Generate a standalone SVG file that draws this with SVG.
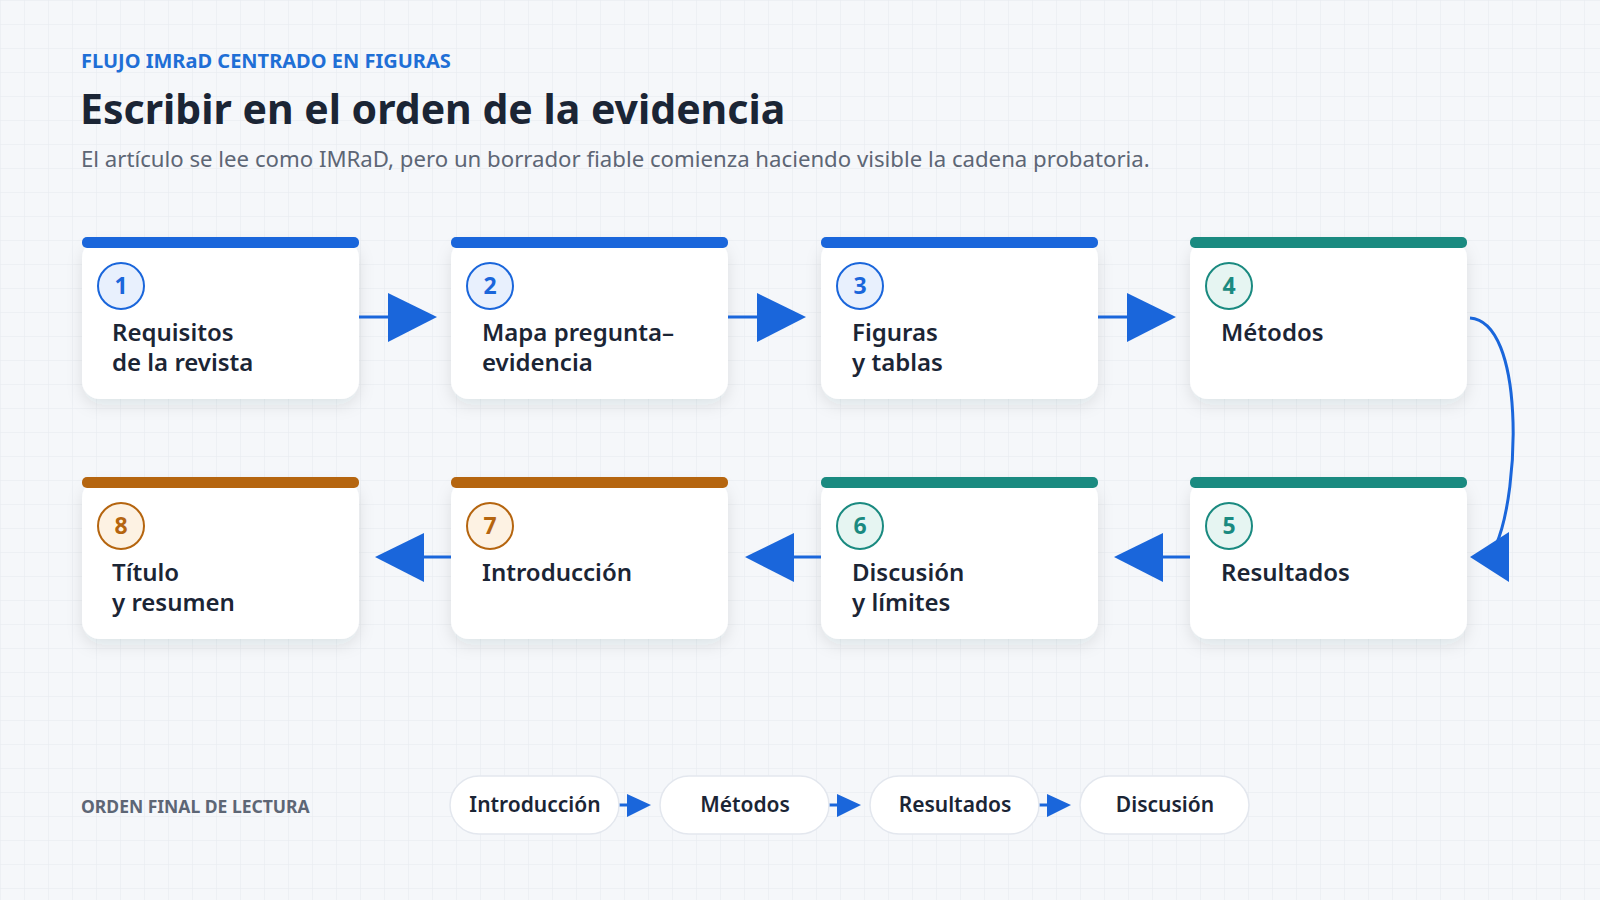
<svg xmlns="http://www.w3.org/2000/svg" width="1600" height="900" viewBox="0 0 1600 900">
<defs>
<pattern id="grid" width="24" height="24" patternUnits="userSpaceOnUse"><path d="M24 0H0V24" fill="none" stroke="#e6e9ee" stroke-width="1"/></pattern>
<filter id="sh" x="-20%" y="-20%" width="140%" height="150%"><feDropShadow dx="0" dy="6" stdDeviation="8" flood-color="#1b2535" flood-opacity="0.10"/></filter>
</defs>
<style>
.card{fill:#fff;filter:url(#sh)}
.t{font-family:"Noto Sans","Open Sans",sans-serif;font-weight:600;font-size:24px;fill:#1b2535}
.n{font-family:"Noto Sans",sans-serif;font-weight:700;font-size:23px;text-anchor:middle}
.c{stroke:#1a66db;stroke-width:3;fill:none}
.h{fill:#1a66db}
.pill{fill:#fff;stroke:#e3e7ee;stroke-width:1.5}
.pt{font-family:"Noto Sans",sans-serif;font-weight:600;font-size:21px;fill:#1b2535;text-anchor:middle}
</style>
<rect width="1600" height="900" fill="#f5f7fa"/>
<rect width="1600" height="900" fill="url(#grid)"/>
<text x="81" y="68" font-family="Noto Sans,sans-serif" font-weight="700" font-size="20" fill="#1f6fd6">FLUJO IMRaD CENTRADO EN FIGURAS</text>
<text x="80" y="124" font-family="Noto Sans,sans-serif" font-weight="700" font-size="41" fill="#1b2535">Escribir en el orden de la evidencia</text>
<text x="81" y="167" font-family="Noto Sans,sans-serif" font-size="22.2" fill="#5d6675">El artículo se lee como IMRaD, pero un borrador fiable comienza haciendo visible la cadena probatoria.</text>

<g id="n1"><rect class="card" x="82" y="240" width="277" height="159" rx="18"/><rect x="82" y="237" width="277" height="11" rx="5" fill="#1a66db"/><circle cx="121" cy="286" r="23" fill="#e8f0fd" stroke="#1a66db" stroke-width="2"/><text class="n" x="121" y="294" fill="#1a66db">1</text><text class="t" x="112" y="341">Requisitos</text><text class="t" x="112" y="371">de la revista</text></g>
<g id="n2"><rect class="card" x="451" y="240" width="277" height="159" rx="18"/><rect x="451" y="237" width="277" height="11" rx="5" fill="#1a66db"/><circle cx="490" cy="286" r="23" fill="#e8f0fd" stroke="#1a66db" stroke-width="2"/><text class="n" x="490" y="294" fill="#1a66db">2</text><text class="t" x="482" y="341">Mapa pregunta–</text><text class="t" x="482" y="371">evidencia</text></g>
<g id="n3"><rect class="card" x="821" y="240" width="277" height="159" rx="18"/><rect x="821" y="237" width="277" height="11" rx="5" fill="#1a66db"/><circle cx="860" cy="286" r="23" fill="#e8f0fd" stroke="#1a66db" stroke-width="2"/><text class="n" x="860" y="294" fill="#1a66db">3</text><text class="t" x="852" y="341">Figuras</text><text class="t" x="852" y="371">y tablas</text></g>
<g id="n4"><rect class="card" x="1190" y="240" width="277" height="159" rx="18"/><rect x="1190" y="237" width="277" height="11" rx="5" fill="#1a8a80"/><circle cx="1229" cy="286" r="23" fill="#e6f5f2" stroke="#1a8a80" stroke-width="2"/><text class="n" x="1229" y="294" fill="#1a8a80">4</text><text class="t" x="1221" y="341">Métodos</text></g>
<g id="n5"><rect class="card" x="1190" y="480" width="277" height="159" rx="18"/><rect x="1190" y="477" width="277" height="11" rx="5" fill="#1a8a80"/><circle cx="1229" cy="526" r="23" fill="#e6f5f2" stroke="#1a8a80" stroke-width="2"/><text class="n" x="1229" y="534" fill="#1a8a80">5</text><text class="t" x="1221" y="581">Resultados</text></g>
<g id="n6"><rect class="card" x="821" y="480" width="277" height="159" rx="18"/><rect x="821" y="477" width="277" height="11" rx="5" fill="#1a8a80"/><circle cx="860" cy="526" r="23" fill="#e6f5f2" stroke="#1a8a80" stroke-width="2"/><text class="n" x="860" y="534" fill="#1a8a80">6</text><text class="t" x="852" y="581">Discusión</text><text class="t" x="852" y="611">y límites</text></g>
<g id="n7"><rect class="card" x="451" y="480" width="277" height="159" rx="18"/><rect x="451" y="477" width="277" height="11" rx="5" fill="#b5650f"/><circle cx="490" cy="526" r="23" fill="#fdf2e3" stroke="#b5650f" stroke-width="2"/><text class="n" x="490" y="534" fill="#b5650f">7</text><text class="t" x="482" y="581">Introducción</text></g>
<g id="n8"><rect class="card" x="82" y="480" width="277" height="159" rx="18"/><rect x="82" y="477" width="277" height="11" rx="5" fill="#b5650f"/><circle cx="121" cy="526" r="23" fill="#fdf2e3" stroke="#b5650f" stroke-width="2"/><text class="n" x="121" y="534" fill="#b5650f">8</text><text class="t" x="112" y="581">Título</text><text class="t" x="112" y="611">y resumen</text></g>

<g id="connectors">
<path class="c" d="M359 317H392"/><path class="h" d="M388 293L437 317L388 342Z"/>
<path class="c" d="M728 317H762"/><path class="h" d="M757 293L806 317L757 342Z"/>
<path class="c" d="M1098 317H1131"/><path class="h" d="M1127 293L1176 317L1127 342Z"/>
<path class="c" d="M1470 318C1525 322 1520 490 1496 545"/><path class="h" d="M1509 532L1509 582L1470 557Z"/>
<path class="c" d="M1190 557H1160"/><path class="h" d="M1163 533L1114 557L1163 582Z"/>
<path class="c" d="M821 557H791"/><path class="h" d="M794 533L745 557L794 582Z"/>
<path class="c" d="M451 557H421"/><path class="h" d="M424 533L375 557L424 582Z"/>
<path class="c" d="M619 805H630"/><path class="h" d="M627 794L651 805L627 817Z"/>
<path class="c" d="M829 805H840"/><path class="h" d="M837 794L861 805L837 817Z"/>
<path class="c" d="M1039 805H1050"/><path class="h" d="M1047 794L1071 805L1047 817Z"/>
</g>

<text x="81" y="813" font-family="Noto Sans,sans-serif" font-weight="700" font-size="17.5" fill="#5d6675">ORDEN FINAL DE LECTURA</text>
<g id="p1"><rect class="pill" x="450" y="776" width="169" height="58" rx="29"/><text class="pt" x="535" y="812">Introducción</text></g>
<g id="p2"><rect class="pill" x="660" y="776" width="169" height="58" rx="29"/><text class="pt" x="745" y="812">Métodos</text></g>
<g id="p3"><rect class="pill" x="870" y="776" width="169" height="58" rx="29"/><text class="pt" x="955" y="812">Resultados</text></g>
<g id="p4"><rect class="pill" x="1080" y="776" width="169" height="58" rx="29"/><text class="pt" x="1165" y="812">Discusión</text></g>
</svg>
